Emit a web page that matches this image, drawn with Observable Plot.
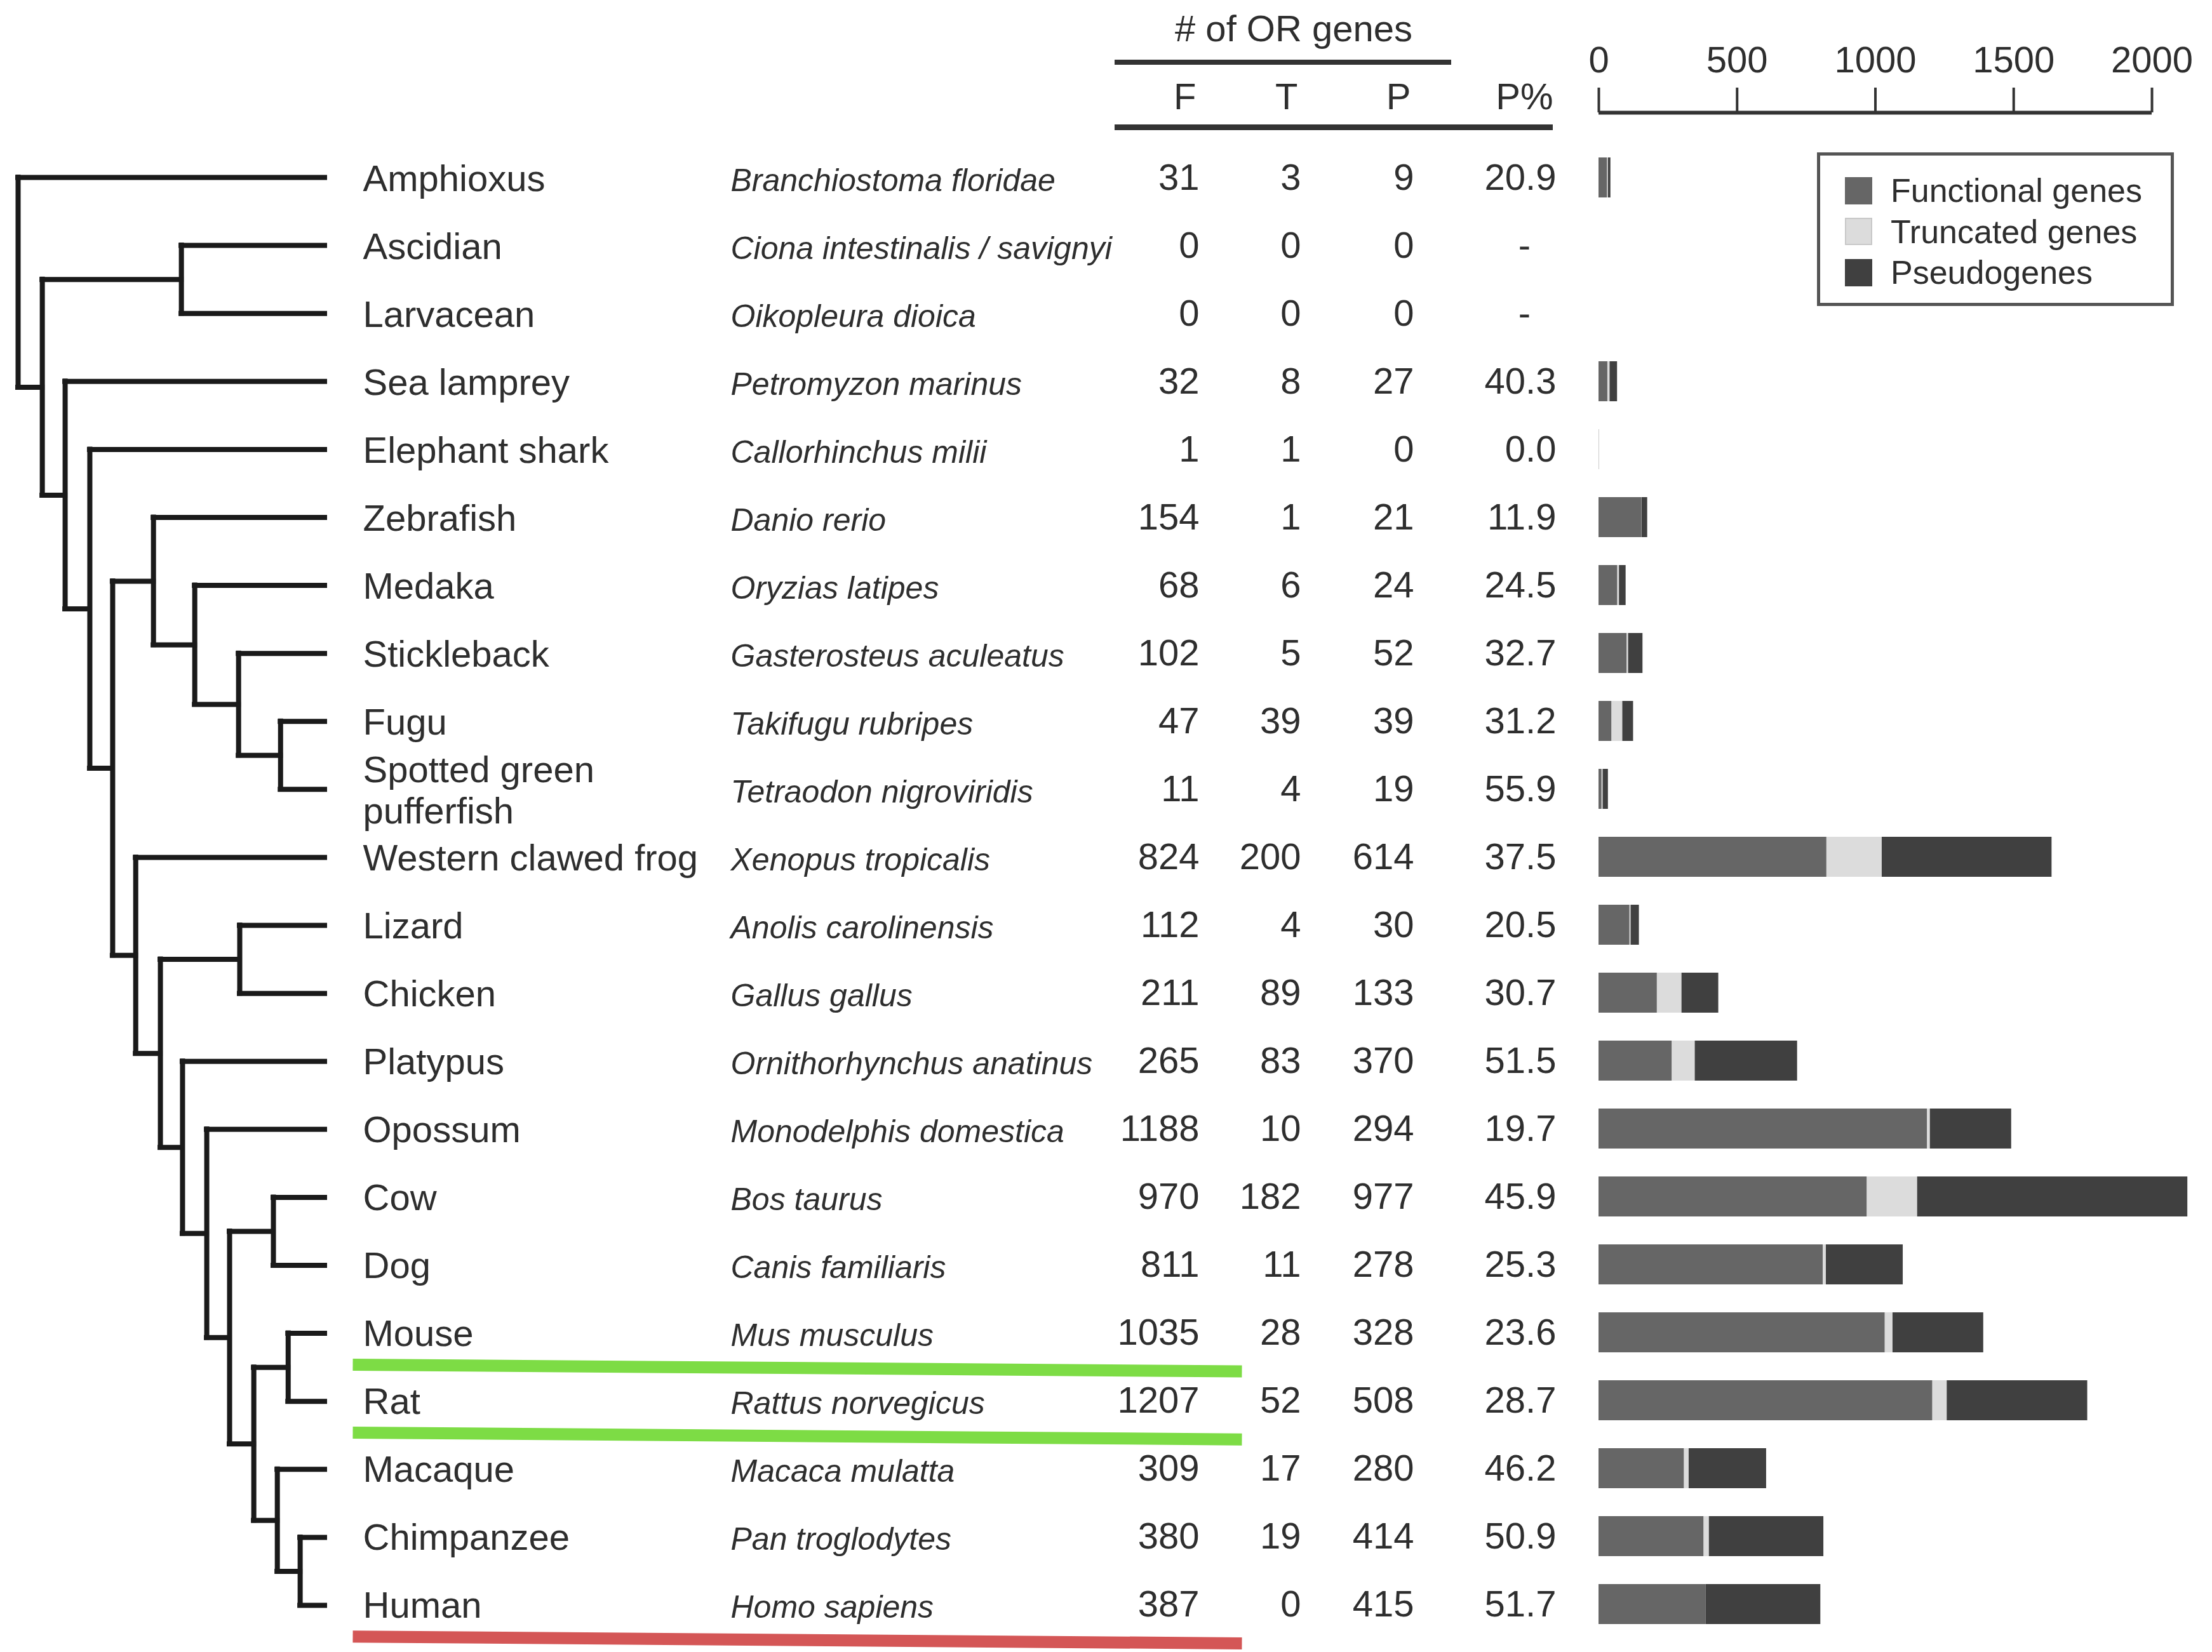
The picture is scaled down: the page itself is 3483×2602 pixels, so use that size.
<!DOCTYPE html>
<html>
<head>
<meta charset="utf-8">
<script src="https://cdn.jsdelivr.net/npm/d3@7"></script>
<script src="https://cdn.jsdelivr.net/npm/@observablehq/plot@0.6"></script>
<style>
  html, body { margin: 0; padding: 0; background: #fff; }
  #fig { position: relative; width: 3483px; height: 2602px; overflow: hidden;
         font-family: "Liberation Sans", Arial, Helvetica, sans-serif; color: #2e2e2e; background: #fff; }
  #fig .panel { position: absolute; top: 0; }
  #fig svg { overflow: visible; max-width: none; }
  #fig .title { position: absolute; font-size: 58px; line-height: 58px; text-align: center; white-space: nowrap; }
  #fig .rule { position: absolute; background: #333; }
  #fig .legend { position: absolute; box-sizing: border-box; border: 5px solid #555; background: #fff; }
  #fig .legend .item { position: absolute; display: flex; align-items: center; font-size: 52px; line-height: 52px; white-space: nowrap; }
  #fig .legend .sw { width: 43px; height: 43px; margin-right: 29px; box-sizing: border-box; }
</style>
</head>
<body>
<div id="fig"></div>
<script>
// ---------------- data ----------------
const species = ["Amphioxus", "Ascidian", "Larvacean", "Sea lamprey", "Elephant shark", "Zebrafish",
  "Medaka", "Stickleback", "Fugu", "Spotted green\npufferfish", "Western clawed frog", "Lizard",
  "Chicken", "Platypus", "Opossum", "Cow", "Dog", "Mouse", "Rat", "Macaque", "Chimpanzee", "Human"];
const latin = ["Branchiostoma floridae", "Ciona intestinalis / savignyi", "Oikopleura dioica",
  "Petromyzon marinus", "Callorhinchus milii", "Danio rerio", "Oryzias latipes",
  "Gasterosteus aculeatus", "Takifugu rubripes", "Tetraodon nigroviridis", "Xenopus tropicalis",
  "Anolis carolinensis", "Gallus gallus", "Ornithorhynchus anatinus", "Monodelphis domestica",
  "Bos taurus", "Canis familiaris", "Mus musculus", "Rattus norvegicus", "Macaca mulatta",
  "Pan troglodytes", "Homo sapiens"];
const functional = [31, 0, 0, 32, 1, 154, 68, 102, 47, 11, 824, 112, 211, 265, 1188, 970, 811, 1035, 1207, 309, 380, 387];
const truncated  = [3, 0, 0, 8, 1, 1, 6, 5, 39, 4, 200, 4, 89, 83, 10, 182, 11, 28, 52, 17, 19, 0];
const pseudo     = [9, 0, 0, 27, 0, 21, 24, 52, 39, 19, 614, 30, 133, 370, 294, 977, 278, 328, 508, 280, 414, 415];
const pseudoPct  = ["20.9", "-", "-", "40.3", "0.0", "11.9", "24.5", "32.7", "31.2", "55.9", "37.5", "20.5",
  "30.7", "51.5", "19.7", "45.9", "25.3", "23.6", "28.7", "46.2", "50.9", "51.7"];

const types = ["Functional genes", "Truncated genes", "Pseudogenes"];
const typeColors = ["#666666", "#dcdcdc", "#404040"];
const xTicks = [0, 500, 1000, 1500, 2000];

// cladogram: internal nodes, their parents and branching depth
const nodeIds     = ["root", "n2", "tunicates", "n3", "n4", "n5", "teleosts", "n7", "n8", "puffers",
  "tetrapods", "amniotes", "sauropsids", "mammals", "theria", "eutheria", "laurasia", "euarch",
  "rodents", "primates", "hominids"];
const nodeParents = [null, "root", "n2", "n2", "n3", "n4", "n5", "teleosts", "n7", "n8",
  "n5", "tetrapods", "amniotes", "amniotes", "mammals", "theria", "eutheria", "eutheria",
  "euarch", "euarch", "primates"];
const nodeDepths  = [0, 1.05, 7.08, 2.04, 3.11, 4.1, 5.87, 7.66, 9.56, 11.38,
  5.1, 6.17, 9.61, 7.13, 8.18, 9.17, 11.07, 10.22, 11.71, 11.24, 12.23];
const leafParents = ["root", "tunicates", "tunicates", "n3", "n4", "teleosts", "n7", "n8", "puffers", "puffers",
  "tetrapods", "sauropsids", "sauropsids", "mammals", "theria", "laurasia", "laurasia", "rodents", "rodents",
  "primates", "hominids", "hominids"];
const tipDepth = 13.3;

const highlights = [
  {species: "Mouse", color: "#7ddc45"},
  {species: "Rat", color: "#7ddc45"},
  {species: "Human", color: "#d45656"}
];

// ---------------- layout ----------------
const H = 2602, rowTop = 279, rowBottom = 2528, headerY = 153;
const step = (rowBottom - rowTop) / (species.length - 1);
const mT = rowTop, mB = H - rowBottom;
const textColor = "#2e2e2e";
const fam = "Liberation Sans, Arial, Helvetica, sans-serif";
const fig = document.getElementById("fig");
const idx = d3.range(species.length);

function place(node, left, width, top = 0) {
  const div = document.createElement("div");
  div.className = "panel";
  div.style.left = left + "px";
  div.style.top = top + "px";
  div.style.width = width + "px";
  div.appendChild(node);
  fig.appendChild(div);
}
const baseStyle = {background: "transparent", fontFamily: fam, overflow: "visible", color: textColor};

// ---------------- tree ----------------
const children = new Map(nodeIds.map(id => [id, []]));
const parentOf = new Map();
nodeIds.forEach((id, k) => { if (nodeParents[k]) { children.get(nodeParents[k]).push(id); parentOf.set(id, nodeParents[k]); } });
species.forEach((s, i) => { children.get(leafParents[i]).push(s); parentOf.set(s, leafParents[i]); });
const depthOf = new Map(nodeIds.map((id, k) => [id, nodeDepths[k]]));
species.forEach(s => depthOf.set(s, tipDepth));
const yOf = new Map(species.map((s, i) => [s, i]));
function computeY(id) {
  if (yOf.has(id)) return yOf.get(id);
  const ys = children.get(id).map(computeY);
  const y = (d3.min(ys) + d3.max(ys)) / 2;
  yOf.set(id, y);
  return y;
}
computeY("root");
const hSegs = [...parentOf].map(([c, p]) => ({y: yOf.get(c), x1: depthOf.get(p), x2: depthOf.get(c)}));
const vSegs = nodeIds.map(id => {
  const ys = children.get(id).map(c => yOf.get(c));
  return {x: depthOf.get(id), y1: d3.min(ys), y2: d3.max(ys)};
});

place(Plot.plot({
  width: 540, height: H, marginLeft: 28, marginRight: 29, marginTop: mT, marginBottom: mB,
  style: baseStyle,
  x: {domain: [0, tipDepth], axis: null},
  y: {domain: [0, species.length - 1], reverse: true, axis: null},
  marks: [
    Plot.ruleX(vSegs, {x: "x", y1: "y1", y2: "y2", stroke: "#1a1a1a", strokeWidth: 8, strokeLinecap: "square"}),
    Plot.ruleY(hSegs, {y: "y", x1: "x1", x2: "x2", stroke: "#1a1a1a", strokeWidth: 8, strokeLinecap: "square"})
  ]
}), 0, 540);

// ---------------- text columns ----------------
function column(left, width, marks) {
  place(Plot.plot({
    width, height: H, marginLeft: 0, marginRight: 0, marginTop: mT, marginBottom: mB,
    style: baseStyle,
    x: {axis: null},
    y: {type: "point", domain: species, padding: 0, axis: null},
    marks
  }), left, width);
}
function header(label) {
  return Plot.text([label], {text: d => d, frameAnchor: "top-right", textAnchor: "end", lineAnchor: "middle",
    dy: headerY - rowTop, dx: -5, fontSize: 58, fill: textColor});
}

column(571, 575, [
  Plot.text(idx, {y: i => species[i], text: i => species[i], frameAnchor: "left", textAnchor: "start",
    fontSize: 58, lineHeight: 1.12, fill: textColor})
]);
column(1150, 620, [
  Plot.text(idx, {y: i => species[i], text: i => latin[i], frameAnchor: "left", textAnchor: "start",
    fontSize: 50, fontStyle: "italic", dy: 4, fill: textColor})
]);
column(1700, 188, [
  Plot.text(idx, {y: i => species[i], text: i => String(functional[i]), frameAnchor: "right", textAnchor: "end",
    fontSize: 58, fill: textColor}),
  header("F")
]);
column(1900, 148, [
  Plot.text(idx, {y: i => species[i], text: i => String(truncated[i]), frameAnchor: "right", textAnchor: "end",
    fontSize: 58, fill: textColor}),
  header("T")
]);
column(2060, 166, [
  Plot.text(idx, {y: i => species[i], text: i => String(pseudo[i]), frameAnchor: "right", textAnchor: "end",
    fontSize: 58, fill: textColor}),
  header("P")
]);
column(2260, 190, [
  Plot.text(idx.filter(i => pseudoPct[i] !== "-"), {y: i => species[i], text: i => pseudoPct[i],
    frameAnchor: "right", textAnchor: "end", fontSize: 58, fill: textColor}),
  Plot.text(idx.filter(i => pseudoPct[i] === "-"), {y: i => species[i], text: i => pseudoPct[i],
    frameAnchor: "right", textAnchor: "middle", dx: -50, fontSize: 58, fill: textColor}),
  header("P%")
]);

// ---------------- highlight strokes ----------------
place(Plot.plot({
  width: 1400, height: H, marginLeft: 0, marginRight: 0, marginTop: mT, marginBottom: mB,
  style: baseStyle,
  x: {domain: [0, 1], axis: null},
  y: {domain: [0, species.length - 1], reverse: true, axis: null},
  marks: [
    Plot.link(highlights, {
      x1: () => 0, x2: () => 1,
      y1: d => species.indexOf(d.species) + 0.46,
      y2: d => species.indexOf(d.species) + 0.56,
      stroke: d => d.color, strokeWidth: 19
    })
  ]
}), 555, 1400);

// ---------------- table header ----------------
const title = document.createElement("div");
title.className = "title";
title.textContent = "# of OR genes";
Object.assign(title.style, {left: "1772px", width: "530px", top: "16px"});
fig.appendChild(title);
const r1 = document.createElement("div");
r1.className = "rule";
Object.assign(r1.style, {left: "1755px", top: "94px", width: "530px", height: "8px"});
fig.appendChild(r1);
const r2 = document.createElement("div");
r2.className = "rule";
Object.assign(r2.style, {left: "1755px", top: "196px", width: "690px", height: "9px"});
fig.appendChild(r2);

// ---------------- bar axis ----------------
const barLeft = 2480, barWidth = 1003, barML = 37, barMR = 95;
place(Plot.plot({
  width: barWidth, height: 200, marginLeft: barML, marginRight: barMR, marginTop: 138, marginBottom: 23,
  style: baseStyle,
  x: {domain: [0, 2000], axis: null},
  y: {domain: [0, 1], axis: null},
  marks: [
    Plot.tickX(xTicks, {x: d => d, stroke: "#333", strokeWidth: 4}),
    Plot.ruleY([0], {stroke: "#333", strokeWidth: 6}),
    Plot.text(xTicks, {x: d => d, text: d => String(d), frameAnchor: "top", lineAnchor: "bottom",
      dy: -25, fontSize: 58, fill: textColor})
  ]
}), barLeft, barWidth);

// ---------------- bars ----------------
const barData = species.flatMap((s, i) => [
  {species: s, type: types[0], n: functional[i]},
  {species: s, type: types[1], n: truncated[i]},
  {species: s, type: types[2], n: pseudo[i]}
]);
place(Plot.plot({
  width: barWidth, height: H, marginLeft: barML, marginRight: barMR,
  marginTop: rowTop - step / 2, marginBottom: H - rowBottom - step / 2,
  style: baseStyle,
  x: {domain: [0, 2000], axis: null},
  y: {type: "band", domain: species, paddingInner: 0.41, paddingOuter: 0.205, axis: null},
  color: {domain: types, range: typeColors},
  marks: [
    Plot.barX(barData, {x: "n", y: "species", fill: "type"})
  ]
}), barLeft, barWidth);

// ---------------- legend ----------------
const legend = document.createElement("div");
legend.className = "legend";
Object.assign(legend.style, {left: "2861px", top: "240px", width: "562px", height: "242px"});
types.forEach((t, k) => {
  const item = document.createElement("div");
  item.className = "item";
  item.style.left = "39px";
  item.style.top = (29 + k * 64.5) + "px";
  const sw = document.createElement("span");
  sw.className = "sw";
  sw.style.background = typeColors[k];
  if (k === 1) sw.style.border = "2px solid #c8c8c8";
  const lab = document.createElement("span");
  lab.textContent = t;
  item.appendChild(sw);
  item.appendChild(lab);
  legend.appendChild(item);
});
fig.appendChild(legend);
</script>
</body>
</html>
